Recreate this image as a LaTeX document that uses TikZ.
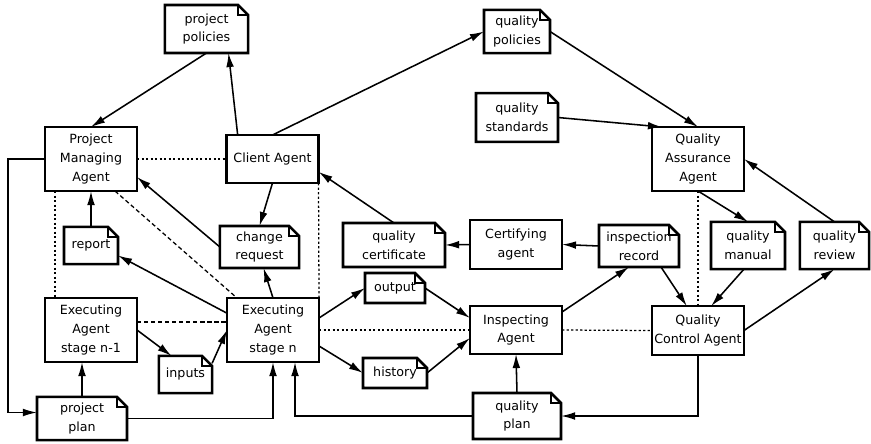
\documentclass[tikz,border=0pt]{standalone}
\usepackage{fontspec}
\setmainfont{DejaVu Sans}
\usetikzlibrary{arrows.meta}

\def\fold{0.25cm}

\begin{document}
\begin{tikzpicture}[x=0.025cm,y=-0.025cm,
  every node/.style={font=\fontsize{9}{13.5}\selectfont,align=center,inner sep=1pt,outer sep=0pt},
  agent/.style={draw,line width=1.8pt,minimum width=2.3cm,minimum height=1.2cm},
  tall/.style={minimum height=1.6cm},
  doc/.style={minimum width=#1},
  docline/.style={line width=1.8pt,line join=miter},
  link/.style={line width=1.1pt,-{Latex[length=10pt,width=5.5pt]}},
  dots/.style={line width=0.9pt,dash pattern=on 1.6pt off 1.6pt},
  dashes/.style={line width=0.9pt,dash pattern=on 3pt off 2pt}]
\useasboundingbox (0,0) rectangle (871,443);

% agents
\node[agent,tall] (pma) at (91,159) {Project\\Managing\\Agent};
\node[agent] (ca) at (272.5,159) {Client Agent};
\node[agent,tall] (qaa) at (698,159) {Quality\\Assurance\\Agent};
\node[agent,tall] (ea1) at (91,330) {Executing\\Agent\\stage n-1};
\node[agent,tall] (ean) at (273,330) {Executing\\Agent\\stage n};
\node[agent,minimum height=1.22cm] (cert) at (516,244.5) {Certifying\\agent};
\node[agent] (ia) at (516,330) {Inspecting\\Agent};
\node[agent,minimum height=1.22cm] (qca) at (698,330.5) {Quality\\Control Agent};

% documents
\node[doc=2.08cm,minimum height=1.2cm] (ppol) at (206.5,29) {project\\policies};
\node[doc=1.65cm,minimum height=1.08cm] (qpol) at (517,31.5) {quality\\policies};
\node[doc=2.05cm,minimum height=1.22cm] (qstd) at (517,117.5) {quality\\standards};
\node[doc=1.35cm,minimum height=0.93cm] (rep) at (91,245.5) {report};
\node[doc=1.98cm,minimum height=1.05cm] (chg) at (259.5,247) {change\\request};
\node[doc=2.55cm,minimum height=1.1cm] (qcert) at (394,245) {quality\\certificate};
\node[doc=2.0cm,minimum height=1.05cm] (irec) at (639,246) {inspection\\record};
\node[doc=1.85cm,minimum height=1.18cm] (qman) at (748,245.5) {quality\\manual};
\node[doc=1.73cm,minimum height=1.18cm] (qrev) at (834.5,245.5) {quality\\review};
\node[doc=1.5cm,minimum height=0.75cm] (outp) at (395,288) {output};
\node[doc=1.6cm,minimum height=0.75cm] (hist) at (395,373) {history};
\node[doc=1.33cm,minimum height=0.93cm] (inp) at (185.5,374.5) {inputs};
\node[doc=2.25cm,minimum height=1.08cm] (pplan) at (82,418.5) {project\\plan};
\node[doc=2.2cm,minimum height=1.15cm] (qplan) at (517,416) {quality\\plan};

\foreach \d in {ppol,qpol,qstd,rep,chg,qcert,irec,qman,qrev,outp,hist,inp,pplan,qplan}
{
  \draw[docline] (\d.south west) -- (\d.north west) -- ([xshift=-\fold]\d.north east)
    -- ([yshift=-\fold]\d.north east) -- (\d.south east) -- cycle;
  \draw[line width=0.9pt] ([xshift=-\fold]\d.north east) |- ([yshift=-\fold]\d.north east);
}

% policies and standards
\draw[link] (ppol.south) -- (pma.north);
\draw[link] ([xshift=0.28cm]ca.north west) -- ([xshift=0.55cm]ppol.south);
\draw[link] (ca.north) -- (qpol.west);
\draw[link] (qpol.east) -- (qaa.north);
\draw[link] (qstd.east) -- ([xshift=-0.9cm]qaa.north);
\draw[link] (qrev.north) -- (qaa.east);
\draw[link] (qaa.south) -- (qman.north);

% project side
\draw[link] (ca.south) -- (chg.north);
\draw[link] (ean.north) -- ([xshift=0.1cm]chg.south);
\draw[link] (chg.west) -- ([yshift=-0.45cm]pma.east);
\draw[link] (rep.north) -- (pma.south);
\draw[link] ([yshift=0.42cm]ean.west) -- ([yshift=-0.25cm]rep.east);
\draw[link] (ea1.east) -- ([xshift=-0.35cm]inp.north);
\draw[link] ([yshift=0.28cm]inp.east) -- (ean.west);
\draw[link] (pplan.north) -- (pplan.north |- ea1.south);
\draw[link] (pma.west) -- ++(-37,0) |- ([yshift=0.15cm]pplan.west);
\draw[link] (pplan.east) -| (ean.south);
\draw[link] (qplan.west) -| ([xshift=0.55cm]ean.south);

% inspection side
\draw[link] ([yshift=0.3cm]ean.east) -- (outp.west);
\draw[link] ([yshift=-0.4cm]ean.east) -- (hist.west);
\draw[link] (outp.east) -- ([yshift=0.3cm]ia.west);
\draw[link] (hist.east) -- ([yshift=-0.2cm]ia.west);
\draw[link] (qplan.north) -- (ia.south);
\draw[link] ([yshift=0.45cm]ia.east) -- ([xshift=-0.25cm]irec.south);
\draw[link] (irec.west) -- (cert.east);
\draw[link] (cert.west) -- (qcert.east);
\draw[link] (qcert.north) -- ([yshift=-0.32cm]ca.east);
\draw[link] ([xshift=0.55cm]irec.south) -- ([xshift=-0.28cm]qca.north);
\draw[link] ([xshift=-0.1cm]qman.south) -- ([xshift=0.33cm]qca.north);
\draw[link] (qca.east) -- (qrev.south);
\draw[link] (qca.south) |- (qplan.east);

% acquaintance lines
\draw[dots] (pma.east) -- (ca.west);
\draw[dots] ([xshift=0.25cm]pma.south west) -- ([xshift=0.25cm]ea1.north west);
\draw[dots] (ca.south east) -- (ean.north east);
\draw[dashes] ([xshift=0.6cm]pma.south) -- ([xshift=-0.9cm]ean.north);
\draw[dashes] ([yshift=0.2cm]ea1.east) -- ([yshift=0.2cm]ean.west);
\draw[dots] (ean.east) -- (ia.west);
\draw[dots] (ia.east) -- (qca.west);
\draw[dots] (qaa.south) -- (qca.north);
\end{tikzpicture}
\end{document}
